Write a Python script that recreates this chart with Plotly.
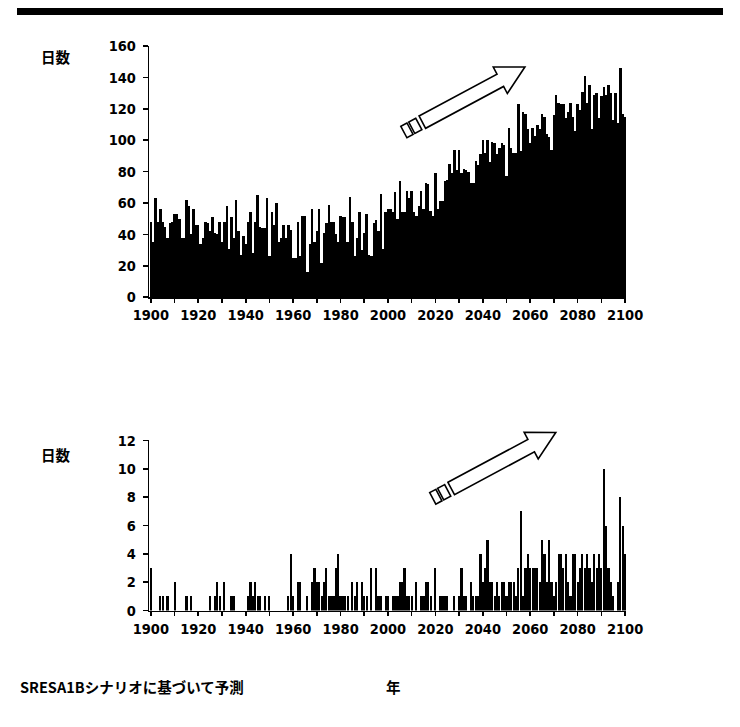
import math
import plotly.graph_objects as go

W, H = 740, 727

years = list(range(1900, 2101))

# upper panel: days per year
hot_days = [
    48, 35, 63, 48, 56, 48, 45, 38, 47, 48, 53, 53, 50, 38, 38, 62, 58, 40, 56, 46,
    46, 34, 38, 48, 47, 42, 51, 41, 40, 48, 35, 48, 58, 31, 51, 38, 62, 42, 27, 39,
    34, 48, 54, 28, 48,
    65, 45, 44, 44, 63, 26, 54, 46, 60, 35, 38, 46, 38, 46, 43, 25, 25, 48, 26, 52,
    52, 16, 34, 56, 35, 42, 56, 22, 41, 47, 59, 48, 48, 40, 35, 52, 51, 51, 35, 64,
    48, 26, 38, 54, 30, 41, 53, 27, 26, 47, 49, 42, 66,
    31, 54, 56, 56, 54, 67, 50, 74, 54, 54, 68, 63, 68, 54, 52, 58, 68, 56, 73, 72,
    55, 52, 79, 56, 61, 61, 74, 75, 85, 79, 94, 81, 94, 79, 82, 81, 80, 73, 73, 87,
    84, 91, 100, 92, 100, 86, 99,
    98, 91, 95, 98, 97, 77, 108, 95, 92, 92, 123, 93, 118, 117, 107, 98,
    108, 103, 110, 107, 117, 115, 104, 102, 94, 116, 129, 124, 123, 123, 114, 118,
    124, 115, 106, 123, 119, 131, 141, 124, 135, 107, 129, 130, 114, 128,
    134, 129, 135, 130, 113, 130, 111, 146, 117, 115,
]

# lower panel: days per year
heavy_days = [
    3, 0, 0, 0, 1, 1, 0, 1, 0, 0,
    2, 0, 0, 0, 0, 1, 0, 1, 0, 0,
    0, 0, 0, 0, 0, 1, 0, 1, 2, 1,
    0, 2, 0, 0, 1, 1, 0, 0, 0, 0,
    0, 1, 2, 1, 2, 1, 1, 0, 1, 0,
    1, 0, 0, 0, 0, 0, 0, 0, 1, 4,
    1, 0, 2, 2, 0, 0, 1, 0, 2, 3,
    2, 2, 1, 2, 3, 1, 1, 1, 3, 4,
    1, 1, 1, 1, 0, 2, 1, 2, 0, 2,
    1, 1, 0, 3, 0, 3, 1, 1, 0, 1,
    1, 0, 1, 1, 1, 2, 2, 3, 1, 1,
    1, 0, 2, 0, 1, 1, 2, 2, 1, 0,
    3, 0, 1, 1, 1, 1, 0, 0, 1, 0,
    1, 3, 1, 1, 0, 2, 1, 1, 1, 4,
    2, 3, 5, 2, 2, 1, 2, 1, 2, 2,
    1, 2, 2, 2, 1, 3, 7, 1, 3, 4,
    3, 3, 3, 3, 2, 5, 4, 2, 5, 2,
    1, 2, 4, 4, 3, 4, 2, 1, 4, 4,
    2, 3, 4, 3, 4, 3, 2, 4, 3, 4,
    3, 10, 6, 3, 2, 1, 0, 2, 8, 6,
    4,
]

x_tick_years = list(range(1900, 2101, 10))
x_tick_text = [str(y) if y % 20 == 0 else "" for y in x_tick_years]
y1_ticks = list(range(0, 161, 20))
y2_ticks = list(range(0, 13, 2))

y_label = "日数"
x_label = "年"
note = "SRESA1Bシナリオに基づいて予測"

NUM_FONT = "Liberation Sans Narrow, DejaVu Sans Condensed, Arial Narrow, Liberation Sans, sans-serif"
JP_FONT = "Noto Sans CJK JP, sans-serif"

# the photographed page shows the figure slightly inset and shrunk;
# target positions (in picture pixels) are mapped back into figure pixels
OX, SX, OY, SY = 15.0, 0.958, 8.0, 0.977


def fx(X):
    return (X - OX) / SX


def fy(Y):
    return (Y - OY) / SY


def paper(X, Y):
    return fx(X) / W, 1 - fy(Y) / H


def pdom_x(X0, X1):
    return [max(0, fx(X0) / W), min(1, fx(X1) / W)]


def pdom_y(Ytop, Ybot):
    return [max(0, 1 - fy(Ybot) / H), min(1, 1 - fy(Ytop) / H)]


def arrow_shape(tail, tip, hw, head_hw, head_len, rects):
    tx, ty = tail
    hx, hy = tip
    dx, dy = hx - tx, hy - ty
    L = math.hypot(dx, dy)
    ux, uy = dx / L, dy / L
    nx, ny = -uy, ux

    def P(u, v):
        return paper(tx + ux * u + nx * v, ty + uy * u + ny * v)

    def path(pts):
        return "M " + " L ".join(f"{a:.5f},{b:.5f}" for a, b in pts) + " Z"

    base = L - head_len
    main = [P(0, -hw), P(base, -hw), P(base, -head_hw), P(L, 0),
            P(base, head_hw), P(base, hw), P(0, hw)]
    shapes = [dict(type="path", xref="paper", yref="paper", path=path(main),
                   fillcolor="white", line=dict(color="black", width=1.6))]
    for u0, u1 in rects:
        pts = [P(u0, -hw + 0.5), P(u1, -hw + 0.5), P(u1, hw - 0.5), P(u0, hw - 0.5)]
        shapes.append(dict(type="path", xref="paper", yref="paper", path=path(pts),
                           fillcolor="white", line=dict(color="black", width=1.6)))
    return shapes


fig = go.Figure()
fig.add_trace(go.Bar(x=years, y=hot_days, xaxis="x", yaxis="y", width=1.0,
                     marker=dict(color="black", line=dict(width=0)), showlegend=False,
                     hoverinfo="skip"))
fig.add_trace(go.Bar(x=years, y=heavy_days, xaxis="x2", yaxis="y2", width=0.9,
                     marker=dict(color="black", line=dict(width=0)), showlegend=False,
                     hoverinfo="skip"))

axis_common = dict(showline=True, linecolor="black", linewidth=1.6, ticks="outside",
                   tickcolor="black", tickwidth=1.6, showgrid=False, zeroline=False,
                   tickfont=dict(family=NUM_FONT, size=14.5, color="black", weight="bold"))

x_dom = pdom_x(148, 627)
fig.update_layout(
    margin=dict(l=0, r=0, t=0, b=0),
    paper_bgcolor="white", plot_bgcolor="white", bargap=0,
    xaxis=dict(domain=x_dom, range=[1899.4, 2100.6], tickvals=x_tick_years,
               ticktext=x_tick_text, ticklen=4, anchor="y", **axis_common),
    yaxis=dict(domain=pdom_y(46, 297), range=[0, 160], tickvals=y1_ticks,
               ticklen=5, anchor="x", ticklabelstandoff=4, **axis_common),
    xaxis2=dict(domain=x_dom, range=[1899.4, 2100.6], tickvals=x_tick_years,
                ticktext=x_tick_text, ticklen=4, anchor="y2", **axis_common),
    yaxis2=dict(domain=pdom_y(440, 610), range=[0, 12], tickvals=y2_ticks,
                ticklen=5, anchor="x2", ticklabelstandoff=4, **axis_common),
)

band_bottom = 1 - fy(15) / H
shapes = [
    dict(type="rect", xref="paper", yref="paper", x0=0, x1=1, y0=band_bottom, y1=1,
         fillcolor="black", line=dict(width=0), layer="above"),
]
shapes += arrow_shape((422, 122), (525, 67), 7, 15, 28, [(-4, -12), (-14, -21)])
shapes += arrow_shape((451, 488), (556, 432), 7, 15, 28, [(-4, -12), (-14, -21)])
fig.update_layout(shapes=shapes)

ann_font = dict(family=JP_FONT, size=14.5, color="black")
annotations = [
    dict(text=f"<b>{y_label}</b>", pos=(37, 56)),
    dict(text=f"<b>{y_label}</b>", pos=(37, 454)),
    dict(text=f"<b>{note}</b>", pos=(16, 686)),
    dict(text=f"<b>{x_label}</b>", pos=(384, 686)),
]
for a in annotations:
    X, Y = a.pop("pos")
    ax, ay = paper(X, Y)
    a.update(x=max(0, ax), y=ay, xanchor="left", yanchor="middle", xref="paper",
             yref="paper", showarrow=False, font=ann_font)
fig.update_layout(annotations=annotations)

fig.write_html(
    "out.html",
    config={"displayModeBar": False, "staticPlot": True},
    default_width=f"{W}px;position:absolute;left:0;top:0",
    default_height=f"{H}px",
)
